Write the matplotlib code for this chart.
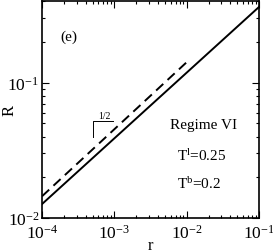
import numpy as np
import matplotlib
matplotlib.use("Agg")
import matplotlib.pyplot as plt

plt.rcParams['font.family'] = ['Liberation Serif', 'DejaVu Serif']
plt.rcParams['mathtext.fontset'] = 'custom'
plt.rcParams['mathtext.rm'] = 'Liberation Serif'
plt.rcParams['mathtext.it'] = 'Liberation Serif:italic'

# solid line (end points)
r_solid = np.array([1e-4, 1e-1])
R_solid = np.array([0.0127, 0.362])
# dashed line
r_dash = np.array([1e-4, 1.05e-2])
R_dash = np.array([0.0145, 0.145])
# slope bracket
br_x = [5.07e-4, 5.07e-4, 9.6e-4]
br_y = [0.0394, 0.0517, 0.0517]

fig = plt.figure(figsize=(2.73, 2.51), dpi=100)
ax = fig.add_axes([0.154, 0.127, 0.795, 0.865])

ax.plot(r_solid, R_solid, color='black', lw=1.4)
ax.plot(r_dash, R_dash, color='black', lw=1.4, dashes=(5, 3))
ax.plot(br_x, br_y, color='black', lw=0.7)

ax.set_xscale('log')
ax.set_yscale('log')
ax.set_xlim(1e-4, 1e-1)
ax.set_ylim(1e-2, 0.4)

ax.tick_params(which='both', direction='in', top=True, right=True, labelsize=12.5, width=0.8)
ax.tick_params(which='major', length=5)
ax.tick_params(axis='x', which='major', pad=4)
ax.tick_params(axis='y', which='major', pad=2)
ax.tick_params(which='minor', length=2.5)
ax.set_xticks([1e-4, 1e-3, 1e-2, 1e-1])
ax.set_xticklabels([r'$10^{-4}$', r'$10^{-3}$', r'$10^{-2}$', r'$10^{-1}$'])
ax.set_yticks([1e-2, 1e-1])
ax.set_yticklabels([r'$10^{-2}$', r'$10^{-1}$'])
for s in ax.spines.values():
    s.set_linewidth(1.2)

ax.set_xlabel('r', fontsize=12)
ax.xaxis.set_label_coords(0.5, -0.088)
ax.set_ylabel('R', fontsize=12)
ax.yaxis.set_label_coords(-0.115, 0.5)

ax.text(0.085, 0.82, '(e)', transform=ax.transAxes, fontsize=11)
ax.text(5.9e-4, 0.055, '1/2', fontsize=7)
ax.text(0.59, 0.415, 'Regime VI', transform=ax.transAxes, fontsize=11)
ax.text(0.62, 0.27, r'T$^{\rm l}$=0.25', transform=ax.transAxes, fontsize=11)
ax.text(0.62, 0.14, r'T$^{\rm b}$=0.2', transform=ax.transAxes, fontsize=11)

fig.savefig('out.png', dpi=100)
